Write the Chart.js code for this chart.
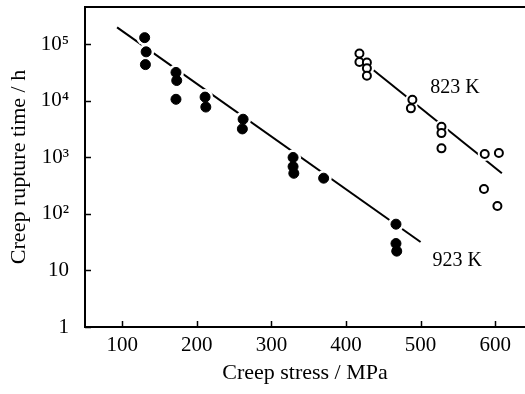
<!DOCTYPE html>
<html>
<head>
<meta charset="utf-8">
<script src="https://cdn.jsdelivr.net/npm/chart.js@4/dist/chart.umd.min.js"></script>
<style>
  html, body { margin: 0; padding: 0; background: #fff; }
  canvas { display: block; }
</style>
</head>
<body>
<canvas id="creepChart" width="525" height="394"></canvas>
<script>
// --- data ---
const stress923 = [130, 132, 131, 172, 173, 172, 211, 212, 262, 261, 329, 329, 330, 370, 467, 467, 468];
const time923   = [1.32e5, 7.4e4, 4.4e4, 3.2e4, 2.3e4, 1.07e4, 1.17e4, 7.8e3, 4.75e3, 3.2e3, 1.0e3, 690, 525, 430, 66, 30, 22];

const stress823 = [418, 418, 428, 428, 428, 489, 487, 528, 528, 528, 586, 605, 585, 603];
const time823   = [6.9e4, 4.9e4, 4.8e4, 3.8e4, 2.8e4, 1.05e4, 7.4e3, 3.5e3, 2.7e3, 1.45e3, 1.15e3, 1.2e3, 277, 138];

// fitted lines (end points)
const fit923X = [93, 500];
const fit923Y = [2.0e5, 32];
const fit823X = [437, 609];
const fit823Y = [3.5e4, 525];

const xTickValues = [100, 200, 300, 400, 500, 600];
const yTickValues = [1, 10, 100, 1000, 10000, 100000];
const yTickLabels = ['1', '10', '10\u00B2', '10\u00B3', '10\u2074', '10\u2075'];

const label823 = { text: '823 K', x: 546, y: 1.7e4 };
const label923 = { text: '923 K', x: 549, y: 15 };

const FONT = '"Liberation Serif", "DejaVu Serif", serif';

const toPts = (xs, ys) => xs.map((x, i) => ({ x: x, y: ys[i] }));

// inward tick marks, top frame line and the temperature labels
const framePlugin = {
    id: 'frame',
    afterDraw(chart) {
        const ctx = chart.ctx;
        const area = chart.chartArea;
        const xs = chart.scales.x, ys = chart.scales.y;
        ctx.save();
        ctx.strokeStyle = '#000';
        ctx.lineWidth = 2;
        ctx.beginPath();
        ctx.moveTo(area.left - 1, area.top);
        ctx.lineTo(area.right, area.top);
        ctx.stroke();
        ctx.lineWidth = 1.5;
        xTickValues.forEach(v => {
            const px = Math.round(xs.getPixelForValue(v)) + 0.5;
            ctx.beginPath();
            ctx.moveTo(px, area.bottom);
            ctx.lineTo(px, area.bottom - 6);
            ctx.stroke();
        });
        yTickValues.forEach(v => {
            const py = Math.round(ys.getPixelForValue(v)) + 0.5;
            ctx.beginPath();
            ctx.moveTo(area.left, py);
            ctx.lineTo(area.left + 6, py);
            ctx.stroke();
        });
        ctx.fillStyle = '#000';
        ctx.font = '20px ' + FONT;
        ctx.textAlign = 'center';
        ctx.textBaseline = 'middle';
        [label823, label923].forEach(l => {
            ctx.fillText(l.text, xs.getPixelForValue(l.x), ys.getPixelForValue(l.y));
        });
        ctx.restore();
    }
};

new Chart(document.getElementById('creepChart'), {
    type: 'scatter',
    data: {
        datasets: [
            // fitted lines (bottom)
            { data: toPts(fit923X, fit923Y), showLine: true, borderColor: '#000', borderWidth: 2, pointRadius: 0, order: 5 },
            { data: toPts(fit823X, fit823Y), showLine: true, borderColor: '#000', borderWidth: 2, pointRadius: 0, order: 5 },
            // white halos that break the lines around the markers
            { data: toPts(stress923, time923), pointRadius: 8, pointBackgroundColor: '#fff', pointBorderWidth: 0, order: 4 },
            { data: toPts(stress823, time823), pointRadius: 7, pointBackgroundColor: '#fff', pointBorderWidth: 0, order: 4 },
            // markers
            { label: '923 K', data: toPts(stress923, time923), pointRadius: 5, pointBackgroundColor: '#000', pointBorderColor: '#000', pointBorderWidth: 1, order: 1 },
            { label: '823 K', data: toPts(stress823, time823), pointRadius: 4, pointBackgroundColor: '#fff', pointBorderColor: '#000', pointBorderWidth: 2, order: 1 }
        ]
    },
    options: {
        responsive: false,
        animation: false,
        events: [],
        layout: { autoPadding: false, padding: { top: 7, right: 0, left: 0, bottom: 0 } },
        plugins: { legend: { display: false }, tooltip: { enabled: false } },
        scales: {
            x: {
                type: 'linear',
                min: 50, max: 640,
                afterBuildTicks: s => { s.ticks = xTickValues.map(v => ({ value: v })); },
                afterFit: s => { s.height = 67; s.paddingLeft = 0; s.paddingRight = 0; },
                grid: { display: false, drawTicks: false },
                border: { display: true, color: '#000', width: 2 },
                ticks: { color: '#000', padding: 6, font: { family: FONT, size: 21 } },
                title: { display: true, text: 'Creep stress / MPa', color: '#000', padding: { top: 0, bottom: 8 }, font: { family: FONT, size: 22 } }
            },
            y: {
                type: 'logarithmic',
                min: 1, max: 4.6e5,
                afterBuildTicks: s => { s.ticks = yTickValues.map(v => ({ value: v })); },
                afterFit: s => { s.width = 85; s.paddingTop = 0; s.paddingBottom = 0; },
                grid: { display: false, drawTicks: false },
                border: { display: true, color: '#000', width: 2 },
                ticks: {
                    color: '#000', padding: 16, font: { family: FONT, size: 21 },
                    callback: (v) => { const i = yTickValues.indexOf(v); return i >= 0 ? yTickLabels[i] : null; }
                },
                title: { display: true, text: 'Creep rupture time / h', color: '#000', padding: { top: 6, bottom: 0 }, font: { family: FONT, size: 22 } }
            }
        }
    },
    plugins: [framePlugin]
});
</script>
</body>
</html>
